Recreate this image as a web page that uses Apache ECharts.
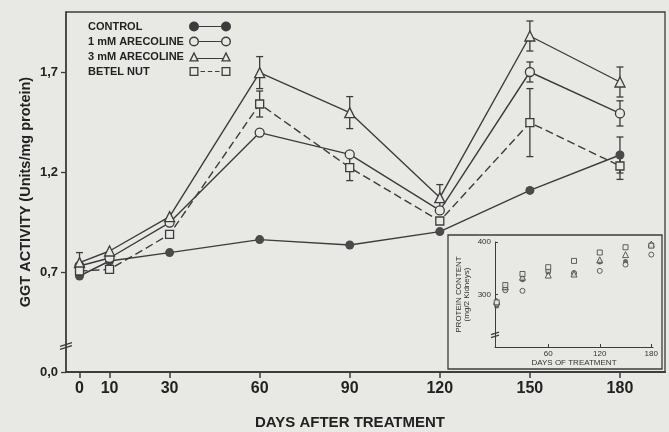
<!DOCTYPE html>
<html>
<head>
<meta charset="utf-8">
<script src="https://cdn.jsdelivr.net/npm/echarts@6.0.0/dist/echarts.min.js"></script>
<style>
html,body{margin:0;padding:0;background:#e8e8e5;}
#chart{width:669px;height:432px;}
</style>
</head>
<body>
<div id="chart"></div>
<script>
// ---- data ----
const days = [0, 10, 30, 60, 90, 120, 150, 180];
const seriesNames = ['CONTROL', '1 mM ARECOLINE', '3 mM ARECOLINE', 'BETEL NUT'];
const control = [0.68, 0.755, 0.797, 0.862, 0.835, 0.902, 1.108, 1.285];
const are1mM = [0.73, 0.77, 0.947, 1.397, 1.288, 1.008, 1.70, 1.493];
const are3mM = [0.747, 0.805, 0.977, 1.697, 1.497, 1.072, 1.88, 1.65];
const betel = [0.705, 0.713, 0.888, 1.54, 1.222, 0.955, 1.447, 1.23];
const controlErr = [0, 0, 0, 0, 0, 0, 0, 0.09];
const are1mMErr = [0, 0, 0, 0, 0, 0, 0.05, 0.063];
const are3mMErr = [0.05, 0, 0, 0.08, 0.08, 0.065, 0.075, 0.075];
const betelErr = [0, 0, 0, 0.065, 0.065, 0, 0.17, 0.067];
const xTickValues = [0, 10, 30, 60, 90, 120, 150, 180];
const yTickValues = [0.2, 0.7, 1.2, 1.7];
const yTickLabels = ['0,0', '0,7', '1,2', '1,7'];
// inset: protein content (mg/2 kidneys)
const insetControl = [278, 310, 328, 342, 340, 362, 363, 394];
const inset1mM = [282, 308, 307, 345, 341, 345, 357, 376];
const inset3mM = [287, 315, 333, 337, 339, 366, 376, 396];
const insetBetel = [285, 318, 339, 352, 364, 380, 390, 393];
const insetXTicks = [60, 120, 180];
const insetYTicks = [300, 400];

// ---- styles ----
const ink = '#3c3c3c';
const bg = '#e8e8e5';
const font = '"Liberation Sans", Arial, Helvetica, sans-serif';

// legend icons, 42 x 10 boxes: marker - line - marker
const icons = {
  filledCircle: 'path://M0,5A5,5,0,1,1,10,5A5,5,0,1,1,0,5Z M10,4.4L32,4.4L32,5.6L10,5.6Z M32,5A5,5,0,1,1,42,5A5,5,0,1,1,32,5Z',
  openCircle: 'path://M0,5A5,5,0,1,1,10,5A5,5,0,1,1,0,5Z M1.4,5A3.6,3.6,0,1,0,8.6,5A3.6,3.6,0,1,0,1.4,5Z M10,4.4L32,4.4L32,5.6L10,5.6Z M32,5A5,5,0,1,1,42,5A5,5,0,1,1,32,5Z M33.4,5A3.6,3.6,0,1,0,40.6,5A3.6,3.6,0,1,0,33.4,5Z',
  openTriangle: 'path://M5,0L10,10L0,10Z M5,3.1L2.2,8.7L7.8,8.7Z M8.5,6.4L33.5,6.4L33.5,7.6L8.5,7.6Z M37,0L42,10L32,10Z M37,3.1L34.2,8.7L39.8,8.7Z',
  openSquare: 'path://M0.5,0.5L9.5,0.5L9.5,9.5L0.5,9.5Z M1.8,1.8L1.8,8.2L8.2,8.2L8.2,1.8Z M11.5,4.4L16,4.4L16,5.6L11.5,5.6Z M18.8,4.4L23.3,4.4L23.3,5.6L18.8,5.6Z M26,4.4L30.5,4.4L30.5,5.6L26,5.6Z M32.5,0.5L41.5,0.5L41.5,9.5L32.5,9.5Z M33.8,1.8L33.8,8.2L40.2,8.2L40.2,1.8Z M0,0L0,0.01L0.01,0Z M42,10L41.99,10L42,9.99Z'
};

function pairs(xs, ys) { return xs.map((x, i) => [x, ys[i]]); }
function errData(vals, errs) {
  const out = [];
  days.forEach((d, i) => { if (errs[i] > 0) out.push([d, vals[i] - errs[i], vals[i] + errs[i]]); });
  return out;
}
function errRender(params, api) {
  const x = api.value(0), lo = api.value(1), hi = api.value(2);
  const p1 = api.coord([x, hi]), p2 = api.coord([x, lo]);
  const w = 3.5;
  const st = { stroke: ink, lineWidth: 1.3 };
  return {
    type: 'group',
    children: [
      { type: 'line', shape: { x1: p1[0], y1: p1[1], x2: p2[0], y2: p2[1] }, style: st },
      { type: 'line', shape: { x1: p1[0] - w, y1: p1[1], x2: p1[0] + w, y2: p1[1] }, style: st },
      { type: 'line', shape: { x1: p2[0] - w, y1: p2[1], x2: p2[0] + w, y2: p2[1] }, style: st }
    ]
  };
}

const mainDefs = [
  { name: seriesNames[0], vals: control, errs: controlErr, symbol: 'circle', size: 9, filled: true, dash: 'solid' },
  { name: seriesNames[1], vals: are1mM, errs: are1mMErr, symbol: 'circle', size: 9, filled: false, dash: 'solid' },
  { name: seriesNames[2], vals: are3mM, errs: are3mMErr, symbol: 'triangle', size: 10, filled: false, dash: 'solid' },
  { name: seriesNames[3], vals: betel, errs: betelErr, symbol: 'rect', size: 8, filled: false, dash: [8, 4] }
];
const insetDefs = [
  { vals: insetControl, symbol: 'circle', size: 5, filled: true },
  { vals: inset1mM, symbol: 'circle', size: 5, filled: false },
  { vals: inset3mM, symbol: 'triangle', size: 6, filled: false },
  { vals: insetBetel, symbol: 'rect', size: 5, filled: false }
];

const series = [];
mainDefs.forEach(d => {
  series.push({
    type: 'custom', xAxisIndex: 0, yAxisIndex: 0, z: 1, silent: true,
    data: errData(d.vals, d.errs), renderItem: errRender
  });
});
mainDefs.forEach(d => {
  series.push({
    type: 'line', name: d.name, xAxisIndex: 0, yAxisIndex: 0, z: 3,
    data: pairs(days, d.vals),
    symbol: d.symbol, symbolSize: d.size, showAllSymbol: true,
    lineStyle: { color: ink, width: 1.4, type: d.dash },
    itemStyle: { color: d.filled ? '#4a4a4a' : bg, borderColor: ink, borderWidth: d.filled ? 0 : 1.3 },
    emphasis: { disabled: true },
    animation: false
  });
});
insetDefs.forEach((d, i) => {
  series.push({
    type: 'scatter', name: 'inset' + i, xAxisIndex: 1, yAxisIndex: 1, z: 3,
    data: pairs(days, d.vals), symbol: d.symbol, symbolSize: d.size,
    itemStyle: { color: d.filled ? '#4a4a4a' : bg, borderColor: ink, borderWidth: d.filled ? 0 : 1 },
    animation: false
  });
});

const legendIcons = [icons.filledCircle, icons.openCircle, icons.openTriangle, icons.openSquare];

const option = {
  backgroundColor: bg,
  animation: false,
  textStyle: { fontFamily: font },
  legend: {
    orient: 'vertical', left: 83, top: 16, align: 'right',
    itemWidth: 42, itemHeight: 10, itemGap: 4,
    selectedMode: false,
    itemStyle: { color: ink, borderWidth: 0 },
    formatter: n => '{t|' + n + '}',
    textStyle: {
      fontFamily: font, fontSize: 11, fontWeight: 'bold', color: '#222',
      rich: { t: { width: 96, align: 'left', fontSize: 11, fontWeight: 'bold', color: '#222', fontFamily: font, lineHeight: 11 } }
    },
    data: seriesNames.map((n, i) => ({ name: n, icon: legendIcons[i] }))
  },
  grid: [
    { left: 66, right: 4, top: 12, bottom: 60, show: true, borderColor: ink, borderWidth: 1.3, backgroundColor: 'transparent', containLabel: false, outerBoundsMode: 'none' },
    { left: 495, width: 158, top: 242, height: 105, containLabel: false, outerBoundsMode: 'none' }
  ],
  xAxis: [
    {
      type: 'value', gridIndex: 0, min: -4.5, max: 195,
      splitLine: { show: false },
      axisLine: { show: true, onZero: false, lineStyle: { color: ink, width: 2 } },
      axisTick: { show: true, inside: false, length: 6, customValues: xTickValues, lineStyle: { color: ink, width: 1.5 } },
      axisLabel: { customValues: xTickValues, margin: 9, fontSize: 16, fontWeight: 'bold', color: '#222', fontFamily: font },
      name: 'DAYS AFTER TREATMENT', nameLocation: 'middle', nameGap: 43, nameMoveOverlap: false,
      nameTextStyle: { fontSize: 15, fontWeight: 'bold', color: '#222', fontFamily: font, padding: [0, 31, 0, 0] }
    },
    {
      type: 'value', gridIndex: 1, min: -2, max: 182,
      splitLine: { show: false },
      axisLine: { show: true, onZero: false, lineStyle: { color: ink, width: 1 } },
      axisTick: { show: true, inside: true, length: 3, customValues: insetXTicks, lineStyle: { color: ink, width: 1 } },
      axisLabel: { customValues: insetXTicks, margin: 3, fontSize: 8, color: '#333', fontFamily: font },
      name: 'DAYS OF TREATMENT', nameLocation: 'middle', nameGap: 12, nameMoveOverlap: false,
      nameTextStyle: { fontSize: 8, color: '#333', fontFamily: font }
    }
  ],
  yAxis: [
    {
      type: 'value', gridIndex: 0, min: 0.2, max: 2.0,
      splitLine: { show: false },
      axisLine: { show: true, onZero: false, lineStyle: { color: ink, width: 1.5 } },
      axisTick: { show: true, inside: false, length: 5, customValues: yTickValues, lineStyle: { color: ink, width: 1.3 } },
      axisLabel: {
        customValues: yTickValues, margin: 8, fontSize: 13, fontWeight: 'bold', color: '#222', fontFamily: font,
        formatter: v => { const k = yTickValues.findIndex(t => Math.abs(t - v) < 1e-6); return k >= 0 ? yTickLabels[k] : ''; }
      },
      name: 'GGT ACTIVITY (Units/mg protein)', nameLocation: 'middle', nameGap: 33, nameRotate: 90, nameMoveOverlap: false,
      nameTextStyle: { fontSize: 14.5, fontWeight: 'bold', color: '#222', fontFamily: font }
    },
    {
      type: 'value', gridIndex: 1, min: 200, max: 400,
      splitLine: { show: false },
      axisLine: { show: true, onZero: false, lineStyle: { color: ink, width: 1 } },
      axisTick: { show: true, inside: true, length: 3, customValues: insetYTicks, lineStyle: { color: ink, width: 1 } },
      axisLabel: { customValues: insetYTicks, margin: 4, fontSize: 8, color: '#333', fontFamily: font },
      name: 'PROTEIN CONTENT\n(mg/2 Kidneys)', nameLocation: 'middle', nameGap: 24, nameRotate: 90, nameMoveOverlap: false,
      nameTextStyle: { fontSize: 8, color: '#333', fontFamily: font, lineHeight: 8 }
    }
  ],
  series: series
};

const chart = echarts.init(document.getElementById('chart'), null, { renderer: 'canvas' });
chart.setOption(option);

// decorations: inset frame and axis-break marks
const brk = chart.convertToPixel({ gridIndex: 0 }, [-4.5, 0.33]);
const brk2 = chart.convertToPixel({ gridIndex: 1 }, [-2, 223]);
function breakMark(p, s) {
  return [
    { type: 'line', shape: { x1: p[0] - s, y1: p[1] - 1.5 + s * 0.3, x2: p[0] + s, y2: p[1] - 1.5 - s * 0.3 }, style: { stroke: ink, lineWidth: 1.3 }, z: 5 },
    { type: 'line', shape: { x1: p[0] - s, y1: p[1] + 1.5 + s * 0.3, x2: p[0] + s, y2: p[1] + 1.5 - s * 0.3 }, style: { stroke: ink, lineWidth: 1.3 }, z: 5 }
  ];
}
chart.setOption({
  graphic: [
    { type: 'rect', shape: { x: 448, y: 235, width: 214, height: 134 }, style: { fill: bg, stroke: ink, lineWidth: 1.3 }, z: 0 }
  ].concat(breakMark(brk, 6)).concat(breakMark(brk2, 4))
});
</script>
</body>
</html>
